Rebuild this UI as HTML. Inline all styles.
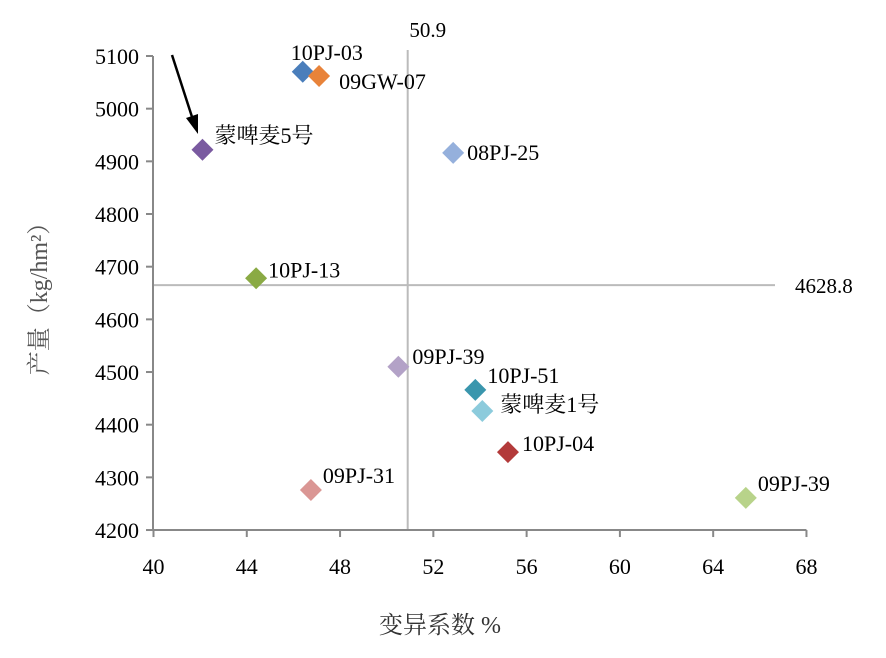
<!DOCTYPE html>
<html><head><meta charset="utf-8"><style>
body{margin:0;background:#fff}
svg text{font-family:"Liberation Serif","Noto Serif CJK SC",serif}
</style></head><body>
<svg id="c" width="886" height="653" xmlns="http://www.w3.org/2000/svg"></svg>
<script>
const names=["10PJ-03","09GW-07","蒙啤麦5号","10PJ-13","08PJ-25","09PJ-39","10PJ-51","蒙啤麦1号","10PJ-04","09PJ-31","09PJ-39"];
const cv=[46.4,47.1,42.1,44.4,52.85,50.5,53.8,54.1,55.2,46.75,65.4];
const yields=[5070,5062,4922,4678,4916,4510,4466,4426,4348,4276,4261];
const colors=["#4a7ebb","#e8833a","#7a5aa0","#8aaa44","#95b0dc","#b3a2c7","#3a96ad","#8ccbdc","#b33a3a","#da9694","#b8d38a"];
const xTicks=[40,44,48,52,56,60,64,68];
const yTicks=[4200,4300,4400,4500,4600,4700,4800,4900,5000,5100];
const refX=50.9, refY=4665, refYLabel="4628.8", refXLabel="50.9";
const labelOff=[[-12,-19],[20,6],[12,-14],[12,-8],[14,0],[14,-10],[12,-14],[18,-6],[14,-8],[12,-14],[12,-14]];
const X=v=>153.5+(v-40)*23.32, Y=v=>56+(5100-v)*0.5267;
const s=document.getElementById('c'),NS="http://www.w3.org/2000/svg";
function mk(t,a,txt){const e=document.createElementNS(NS,t);for(const k in a)e.setAttribute(k,a[k]);if(txt!=null)e.textContent=txt;s.appendChild(e);return e;}
let e;
e=mk('line',{x1:X(refX),y1:50,x2:X(refX),y2:Y(4200),stroke:'#bbb','stroke-width':2});


e=mk('line',{x1:153,y1:Y(refY),x2:775,y2:Y(refY),stroke:'#bbb','stroke-width':2});


e=mk('text',{x:X(refX)+20,y:37,'font-size':21,'text-anchor':'middle'},refXLabel);


e=mk('text',{x:795,y:Y(refY)+8,'font-size':21},refYLabel);


e=mk('line',{x1:153,y1:Y(5100),x2:153,y2:Y(4200),stroke:'#888','stroke-width':2});


e=mk('line',{x1:153,y1:Y(4200),x2:X(68),y2:Y(4200),stroke:'#888','stroke-width':2});


yTicks.forEach(t=>{
 e=mk('line',{x1:146,y1:Y(t),x2:153,y2:Y(t),stroke:'#888','stroke-width':2});
 
 
 e=mk('text',{x:139,y:Y(t)+8,'font-size':22,'text-anchor':'end'},t);
 
 
});
xTicks.forEach(t=>{
 e=mk('line',{x1:X(t),y1:Y(4200),x2:X(t),y2:Y(4200)+7,stroke:'#888','stroke-width':2});
 
 
 e=mk('text',{x:X(t),y:574,'font-size':22,'text-anchor':'middle'},t);
 
 
});
cv.forEach((v,i)=>{
 const cx=X(v),cy=Y(yields[i]),r=11;
 e=mk('polygon',{points:`${cx},${cy-r} ${cx+r},${cy} ${cx},${cy+r} ${cx-r},${cy}`,fill:colors[i]});
 
 
 e=mk('text',{x:cx+labelOff[i][0],y:cy+labelOff[i][1]+7,'font-size':22},names[i]);
 
 
});
e=mk('line',{x1:172,y1:55,x2:193,y2:120,stroke:'#000','stroke-width':2.5});


e=mk('polygon',{points:'198,134 186,118 198,114',fill:'#000'});


e=mk('text',{x:440,y:633,'font-size':24,'text-anchor':'middle',fill:'#333'},'变异系数 %');


e=mk('text',{x:0,y:0,'font-size':24,'text-anchor':'middle',fill:'#555',transform:'translate(47,293) rotate(-90)'},'产量（kg/hm²）');


</script>
</body></html>
